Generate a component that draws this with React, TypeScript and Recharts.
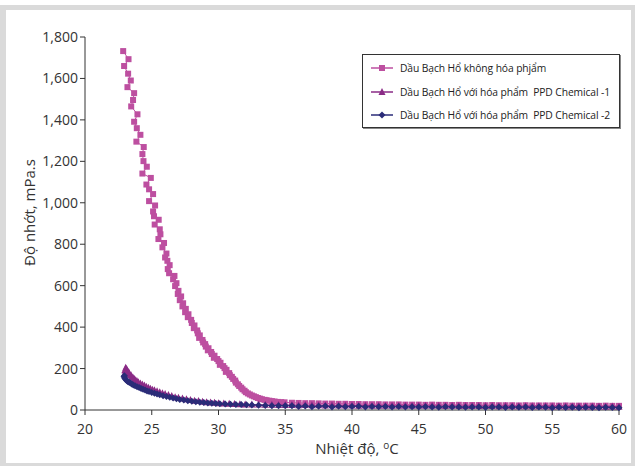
import React from 'react';
import { ScatterChart, Scatter, XAxis, YAxis } from 'recharts';

const seriesNames = [
  'Dầu Bạch Hổ không hóa phjẩm',
  'Dầu Bạch Hổ với hóa phẩm  PPD Chemical -1',
  'Dầu Bạch Hổ với hóa phẩm  PPD Chemical -2',
];

const xTicks = [20, 25, 30, 35, 40, 45, 50, 55, 60];
const yTicks = [0, 200, 400, 600, 800, 1000, 1200, 1400, 1600, 1800];

// shared temperature readings for the flat part (35.5 .. 60 °C)
const tailT = [
  35.5, 36, 36.5, 37, 37.5, 38, 38.5, 39, 39.5, 40,
  40.5, 41, 41.5, 42, 42.5, 43, 43.5, 44, 44.5, 45,
  45.5, 46, 46.5, 47, 47.5, 48, 48.5, 49, 49.5, 50,
  50.5, 51, 51.5, 52, 52.5, 53, 53.5, 54, 54.5, 55,
  55.5, 56, 56.5, 57, 57.5, 58, 58.5, 59, 59.5, 60,
];

// no chemical
const pinkT = [
  22.86, 23.26, 22.93, 23.23, 23.43, 23.18, 23.68, 23.6, 23.46, 23.93,
  23.68, 23.88, 24.15, 23.85, 24.4, 24.3, 24.38, 24.63, 24.3, 24.93,
  24.6, 24.8, 25.1, 24.8, 25.25, 25.1, 25.17, 25.52, 25.22, 25.6,
  25.65, 25.5, 25.92, 25.8, 26.1, 26.0, 26.17, 26.34, 26.2, 26.3,
  26.7, 26.6,
  26.85, 26.75, 27.0, 26.95, 27.2, 27.1, 27.35, 27.3, 27.55, 27.5,
  27.75, 27.7, 27.95, 28.0, 28.2, 28.15, 28.4, 28.45, 28.6, 28.55,
  28.8, 28.85, 29.0, 29.05, 29.25, 29.2, 29.45, 29.5, 29.7, 29.65,
  29.9, 30.0, 30.15, 30.1, 30.35, 30.45, 30.6, 30.55, 30.8, 30.85,
  31.0, 31.1, 31.25, 31.3, 31.45, 31.55, 31.7, 31.8, 31.95, 32.05,
  32.2, 32.35, 32.5, 32.65, 32.8, 32.95, 33.1, 33.25, 33.45, 33.6,
  33.8, 34.0, 34.2, 34.45, 34.7, 34.95,
  ...tailT,
];
const pinkV = [
  1732, 1693, 1660, 1623, 1590, 1558, 1529, 1496, 1465, 1427,
  1391, 1360, 1328, 1295, 1269, 1235, 1201, 1174, 1141, 1120,
  1088, 1065, 1042, 1008, 987, 958, 935, 918, 895, 872,
  848, 825, 806, 785, 755, 736, 720, 699, 680, 660,
  647, 631,
  612, 598, 575, 560, 548, 530, 515, 500, 488, 472,
  462, 448, 435, 420, 408, 395, 384, 370, 360, 348,
  338, 326, 318, 306, 298, 288, 280, 270, 262, 252,
  246, 236, 228, 218, 212, 202, 194, 184, 178, 168,
  160, 150, 142, 132, 124, 116, 108, 100, 93, 86,
  80, 75, 70, 66, 62, 58, 55, 52, 49, 47,
  45, 43, 41, 39, 38, 37,
  35, 34, 33, 33, 32, 31, 31, 30, 30, 29,
  29, 28, 28, 28, 27, 27, 27, 26, 26, 26,
  25, 26, 25, 25, 24, 25, 24, 24, 24, 23,
  24, 23, 23, 23, 22, 23, 22, 22, 22, 22,
  21, 22, 21, 21, 21, 21, 20, 21, 20, 20,
];

// PPD Chemical -1
const purpleT = [
  22.98, 23.05, 23.02, 23.12, 23.2, 23.15, 23.3, 23.35, 23.45, 23.5,
  23.6, 23.7, 23.8, 23.9, 24.0, 24.15, 24.3, 24.45, 24.6, 24.75,
  24.9, 25.05, 25.2, 25.4, 25.6, 25.8, 26.0, 26.25, 26.5, 26.75,
  27.0, 27.3, 27.6, 27.9, 28.2, 28.5, 28.8, 29.1, 29.4, 29.7,
  30.0, 30.4, 30.8, 31.2, 31.6, 32.0, 32.5, 33.0, 33.5, 34.0,
  34.5, 35.0,
  ...tailT,
];
const purpleV = [
  192, 204, 185, 198, 188, 178, 180, 170, 168, 160,
  156, 150, 144, 139, 134, 128, 123, 118, 112, 107,
  102, 98, 95, 91, 86, 81, 77, 72, 67, 62,
  59, 56, 52, 48, 45, 43, 40, 38, 36, 35,
  33, 31, 30, 29, 28, 27, 26, 26, 25, 25,
  24, 24,
  24, 23, 24, 23, 23, 22, 23, 22, 22, 22,
  21, 22, 21, 21, 21, 21, 20, 21, 20, 20,
  20, 20, 20, 19, 20, 19, 19, 19, 19, 19,
  19, 18, 19, 18, 18, 18, 18, 18, 18, 17,
  18, 17, 17, 17, 17, 17, 17, 16, 17, 16,
];

// PPD Chemical -2
const blueT = [
  22.95, 22.92, 22.98, 23.05, 23.12, 23.2, 23.3, 23.4, 23.5, 23.62,
  23.75, 23.9, 24.05, 24.2, 24.35, 24.5, 24.65, 24.8, 25.0, 25.2,
  25.4, 25.6, 25.85, 26.1, 26.35, 26.6, 26.85, 27.1, 27.4, 27.7,
  28.0, 28.3, 28.6, 28.9, 29.2, 29.5, 29.8, 30.1, 30.5, 30.9,
  31.3, 31.7, 32.1, 32.5, 33.0, 33.5, 34.0, 34.5, 35.0,
  ...tailT,
];
const blueV = [
  165, 160, 153, 147, 142, 138, 134, 130, 126, 121,
  117, 112, 108, 104, 100, 96, 92, 89, 85, 81,
  77, 73, 69, 65, 61, 58, 54, 51, 48, 45,
  42, 40, 38, 36, 34, 32, 31, 30, 29, 28,
  27, 26, 25, 24, 23, 22, 21, 21, 20,
  20, 17, 19, 16, 18, 19, 15, 18, 16, 17,
  18, 15, 17, 16, 17, 14, 17, 15, 16, 14,
  16, 15, 13, 16, 14, 15, 13, 15, 14, 12,
  14, 15, 12, 14, 13, 14, 12, 14, 13, 11,
  13, 12, 13, 11, 13, 12, 11, 13, 12, 11,
];

const PINK = '#bd4fa0';
const PURPLE = '#8a2b86';
const NAVY = '#2b2c78';

const zip = (t: number[], v: number[]) => t.map((x, i) => ({ x, y: v[i] }));
const pinkData = zip(pinkT, pinkV);
const purpleData = zip(purpleT, purpleV);
const blueData = zip(blueT, blueV);

const font = '"Open Sans", "Noto Sans", sans-serif';

const Square = ({ cx, cy, color }: any) => (
  <rect x={cx - 3} y={cy - 3} width={6} height={6} fill={color} />
);
const Triangle = ({ cx, cy, color }: any) => (
  <path d={`M${cx},${cy - 4}L${cx + 3.5},${cy + 3}L${cx - 3.5},${cy + 3}Z`} fill={color} />
);
const Diamond = ({ cx, cy, color }: any) => (
  <path d={`M${cx},${cy - 3.5}L${cx + 3.5},${cy}L${cx},${cy + 3.5}L${cx - 3.5},${cy}Z`} fill={color} />
);

const markers = [Square, Triangle, Diamond];
const colors = [PINK, PURPLE, NAVY];

const LegendBox = () => (
  <div
    style={{
      position: 'absolute', left: 362, top: 54, width: 256, height: 72,
      border: '1px solid #333', boxShadow: '1px 1px 0 #888', background: '#fff',
      fontFamily: font, fontSize: 10.3, letterSpacing: -0.1, color: '#222',
    }}
  >
    {seriesNames.map((name, i) => {
      const M = markers[i];
      return (
        <div key={name} style={{ position: 'absolute', left: 0, top: 4 + i * 23.5, height: 18, display: 'flex', alignItems: 'center' }}>
          <svg width={36} height={18} style={{ marginLeft: 4 }}>
            <line x1={4} x2={26} y1={9} y2={9} stroke={colors[i]} strokeWidth={1.5} />
            <M cx={15} cy={9} color={colors[i]} />
          </svg>
          <span style={{ whiteSpace: 'pre', marginLeft: -3 }}>{name}</span>
        </div>
      );
    })}
  </div>
);

export default function App() {
  return (
    <div style={{ position: 'absolute', left: 0, top: 0, width: 635, height: 466, background: '#fff' }}>
      <div
        style={{
          position: 'absolute', left: 0, top: 5, width: 635, height: 461, boxSizing: 'border-box',
          borderStyle: 'solid', borderColor: '#dadada', borderWidth: '5px 4px 3px 6px',
        }}
      />
      <ScatterChart width={635} height={466} margin={{ top: 37, right: 16, bottom: 0, left: 0 }} style={{ position: 'absolute', left: 0, top: 0 }}>
        <XAxis
          type="number"
          dataKey="x"
          domain={[20, 60]}
          ticks={xTicks}
          height={56}
          tickSize={5}
          tickMargin={9}
          stroke="#333"
          tick={{ fontSize: 14, fill: '#333', fontFamily: font }}
          label={{
            content: ({ viewBox }: any) => {
              const cx = viewBox.x + viewBox.width / 2 + 5;
              return (
                <text x={cx} y={454} textAnchor="middle" fontSize={15} fill="#333" fontFamily={font}>
                  Nhiệt độ, <tspan fontSize={10} dy={-5}>o</tspan><tspan dy={5}>C</tspan>
                </text>
              );
            },
          }}
        />
        <YAxis
          type="number"
          dataKey="y"
          domain={[0, 1800]}
          ticks={yTicks}
          width={85}
          tickSize={5}
          tickMargin={2}
          stroke="#333"
          tickFormatter={(v: number) => v.toLocaleString('en-US')}
          tick={{ fontSize: 14, fill: '#333', fontFamily: font }}
          label={{
            content: ({ viewBox }: any) => {
              const cx = 31;
              const cy = viewBox.y + viewBox.height / 2 - 11;
              return (
                <text x={cx} y={cy} transform={`rotate(-90 ${cx} ${cy})`} textAnchor="middle" dominantBaseline="middle" fontSize={15} fill="#333" fontFamily={font}>
                  Độ nhớt, mPa.s
                </text>
              );
            },
          }}
        />
        <Scatter
          name={seriesNames[0]}
          data={pinkData}
          line={{ stroke: PINK, strokeWidth: 1 }}
          shape={(p: any) => <Square {...p} color={PINK} />}
          isAnimationActive={false}
        />
        <Scatter
          name={seriesNames[1]}
          data={purpleData}
          line={{ stroke: PURPLE, strokeWidth: 1 }}
          shape={(p: any) => <Triangle {...p} color={PURPLE} />}
          isAnimationActive={false}
        />
        <Scatter
          name={seriesNames[2]}
          data={blueData}
          line={{ stroke: NAVY, strokeWidth: 1 }}
          shape={(p: any) => <Diamond {...p} color={NAVY} />}
          isAnimationActive={false}
        />
      </ScatterChart>
      <LegendBox />
    </div>
  );
}
